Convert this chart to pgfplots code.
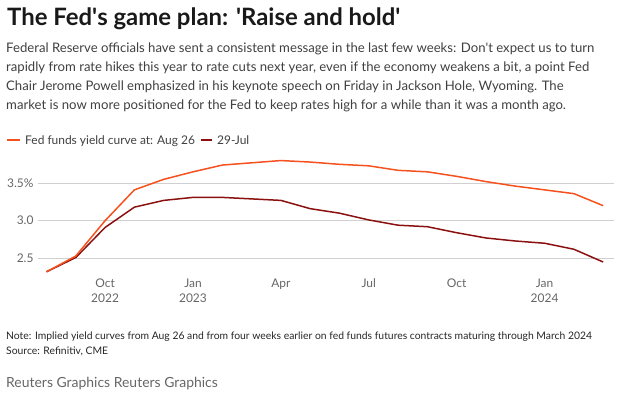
\documentclass[border=0pt]{standalone}
\usepackage{pgfplots}
\pgfplotsset{compat=1.18}
\usepackage{fontspec}
\setmainfont{Lato}
\definecolor{orng}{HTML}{F4511E}
\definecolor{dred}{HTML}{8B1010}
\definecolor{bodyc}{HTML}{404040}
\definecolor{tickc}{HTML}{666666}
\definecolor{gridc}{HTML}{D0D0D0}
\newcommand{\q}{\textquotesingle}
\begin{document}
\begin{tikzpicture}[x=1bp,y=1bp]
\path[use as bounding box] (0,0) rectangle (624,393);
\node[anchor=base west,inner sep=0,font=\bfseries\fontsize{24}{26}\selectfont,text=black!90] at (7,393-25) {The Fed\q s game plan: \q Raise and hold\q};
\begin{scope}[every node/.style={anchor=base west,inner sep=0,font=\fontsize{13.2}{16}\selectfont,text=bodyc}]
\node at (6,393-52) {Federal Reserve officials have sent a consistent message in the last few weeks: Don\q t expect us to turn};
\node at (6,393-71) {rapidly from rate hikes this year to rate cuts next year, even if the economy weakens a bit, a point Fed};
\node at (6,393-90) {Chair Jerome Powell emphasized in his keynote speech on Friday in Jackson Hole, Wyoming. The};
\node at (6,393-109) {market is now more positioned for the Fed to keep rates high for a while than it was a month ago.};
\end{scope}
\begin{axis}[
  at={(38bp,119.7bp)}, anchor=south west,
  scale only axis, width=576bp, height=116.5bp,
  xmin=-0.29, xmax=19.37, ymin=2.3, ymax=3.85,
  axis line style={draw=none}, tick style={draw=none},
  ytick={2.5,3.0,3.5}, yticklabels={2.5,3.0,3.5\%},
  xtick={2,5,8,11,14,17},
  xticklabels={{Oct\\2022},{Jan\\2023},Apr,Jul,Oct,{Jan\\2024}},
  ymajorgrids, grid style={gridc, line width=0.8pt},
  yticklabel style={font=\fontsize{12}{14}\selectfont, text=tickc, anchor=east, xshift=-1bp},
  xticklabel style={font=\fontsize{12}{15}\selectfont, text=tickc, align=center, anchor=north, yshift=-2bp},
  clip=false,
]
\addplot[dred, line width=1.5pt] coordinates {
(0,2.32)(1,2.51)(2,2.91)(3,3.18)(4,3.27)(5,3.31)(6,3.31)(7,3.29)(8,3.27)(9,3.16)
(10,3.10)(11,3.01)(12,2.94)(13,2.92)(14,2.84)(15,2.77)(16,2.73)(17,2.70)(18,2.62)(19,2.45)};
\addplot[orng, line width=1.5pt] coordinates {
(0,2.32)(1,2.53)(2,3.00)(3,3.41)(4,3.55)(5,3.65)(6,3.74)(7,3.77)(8,3.80)(9,3.78)
(10,3.75)(11,3.73)(12,3.67)(13,3.65)(14,3.59)(15,3.52)(16,3.46)(17,3.41)(18,3.36)(19,3.20)};
\end{axis}
\draw[orng, line width=1.5pt] (7,393-140) -- (20,393-140);
\node[anchor=base west,inner sep=0,font=\fontsize{12}{14}\selectfont,text=bodyc] at (25,393-144.5) {Fed funds yield curve at: Aug 26};
\draw[dred, line width=1.5pt] (201,393-140) -- (212,393-140);
\node[anchor=base west,inner sep=0,font=\fontsize{12}{14}\selectfont,text=bodyc] at (217,393-144.5) {29-Jul};
\begin{scope}[every node/.style={anchor=base west,inner sep=0,font=\fontsize{10.4}{12}\selectfont,text=black!85}]
\node at (6,393-339) {Note: Implied yield curves from Aug 26 and from four weeks earlier on fed funds futures contracts maturing through March 2024};
\node at (6,393-354) {Source: Refinitiv, CME};
\end{scope}
\node[anchor=base west,inner sep=0,font=\fontsize{14}{16}\selectfont,text=black!60] at (6,393-387) {Reuters Graphics Reuters Graphics};
\end{tikzpicture}
\end{document}
